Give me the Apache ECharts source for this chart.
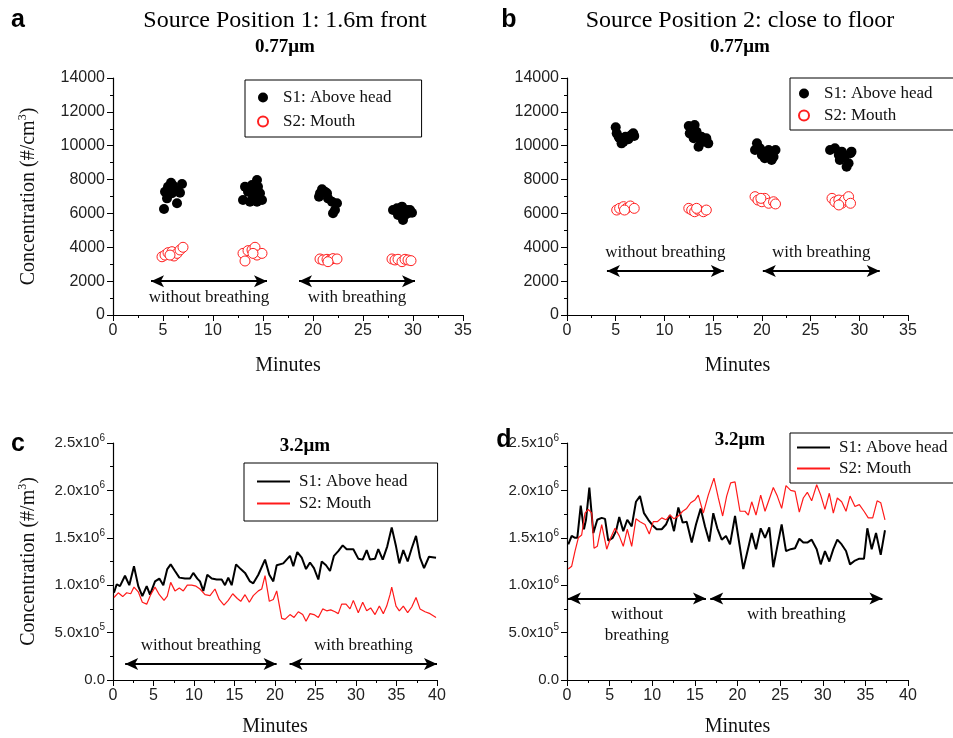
<!DOCTYPE html>
<html>
<head>
<meta charset="utf-8">
<title>Source position concentration</title>
<script src="https://cdn.jsdelivr.net/npm/echarts@6/dist/echarts.min.js"></script>
<style>
html, body { margin: 0; padding: 0; background: #fff; }
#main { width: 953px; height: 738px; }
</style>
</head>
<body>
<div id="main"></div>
<script>
// panel a: 0.77um, source position 1  ([minutes, #/cm3])
var aS1 = [[5.1,6260],[5.2,7280],[5.5,7580],[5.8,7815],[5.4,6890],[5.9,7190],[6.2,7380],[6.4,6600],[6.7,7225],[6.9,7740],[5.7,7500],[6.0,7650],
    [13.2,7580],[13.0,6790],[13.5,7280],[13.9,7680],[14.4,7975],[14.4,6690],[14.7,7190],[14.9,6790],[14.0,6990],[14.2,7380],[13.7,6690],[14.5,7580],
    [20.9,7425],[20.6,6990],[21.2,7280],[21.5,6890],[21.9,6690],[22.4,6600],[22.0,6010],[22.2,6200],[21.4,7190],[20.7,7190],
    [28.0,6200],[28.4,6300],[28.7,6010],[29.0,5610],[29.4,6200],[29.9,6040],[28.9,6400],[29.2,5910],[29.5,6010],[28.5,5910],[29.7,6200]];
var aS2 = [[4.9,3440],[5.2,3540],[5.5,3680],[5.9,3740],[6.1,3485],[6.4,3640],[6.7,3840],[7.0,4000],[5.7,3540],
    [13.0,3640],[13.2,3190],[13.5,3800],[13.9,3840],[14.2,4000],[14.4,3540],[14.9,3640],[14.0,3640],
    [20.7,3310],[21.0,3250],[21.4,3290],[21.7,3250],[22.0,3330],[22.4,3310],[21.5,3150],
    [27.9,3310],[28.2,3250],[28.5,3290],[28.9,3150],[29.2,3290],[29.5,3250],[29.8,3210]];

// panel b: 0.77um, source position 2
var bS1 = [[5.0,11090],[5.1,10730],[5.4,10440],[5.6,10140],[6.0,10530],[6.3,10380],[6.6,10630],[6.9,10570],[6.8,10730],[5.8,10240],[5.3,10530],
    [12.5,11160],[13.1,11220],[12.6,10730],[13.0,10440],[13.3,10830],[13.7,10340],[13.5,9940],[14.0,10240],[14.3,10440],[14.5,10140],[13.8,10530],
    [19.5,10140],[19.3,9750],[19.8,9850],[20.0,9450],[20.3,9260],[20.7,9750],[21.0,9160],[21.4,9750],[21.2,9350],[20.1,9650],[20.8,9450],
    [27.0,9750],[27.5,9850],[27.9,9450],[28.2,9650],[28.5,9350],[28.9,8960],[29.1,9550],[29.2,9650],[28.7,8760],[28.0,9160]];
var bS2 = [[5.1,6200],[5.4,6300],[5.8,6400],[6.1,6300],[6.5,6440],[6.9,6300],[5.9,6200],
    [12.5,6300],[12.8,6200],[13.1,6100],[13.5,6200],[14.0,6100],[14.3,6200],[13.3,6300],
    [19.3,6990],[19.6,6790],[20.0,6690],[20.3,6890],[20.7,6600],[21.2,6690],[21.4,6560],[19.9,6890],
    [27.2,6890],[27.5,6690],[27.9,6790],[28.2,6600],[28.5,6790],[28.9,6990],[29.1,6600],[27.9,6500]];

// panel c: 3.2um, source position 1 (values in 10^6 #/m3)
var cT1 = [0.12,0.46,0.86,1.48,2.01,2.59,3.12,3.62,4.16,4.57,5.19,5.72,6.21,6.70,7.12,7.65,8.19,8.89,9.51,9.91,10.41,10.74,11.15,11.64,12.19,12.80,13.42,13.83,14.23,14.65,15.19,15.77,16.30,16.91,17.32,17.94,18.77,19.30,19.79,20.21,21.02,21.85,22.26,22.75,23.30,23.83,24.32,24.81,25.35,25.77,26.30,26.79,27.28,27.81,28.36,28.85,29.67,30.28,30.83,31.32,31.73,32.35,32.75,33.30,33.86,34.41,34.94,35.35,35.84,36.38,36.88,37.41,37.90,38.40,39.01,39.88];
var cS1 = [0.92,1.01,0.99,1.10,1.00,1.20,0.99,0.885,0.99,0.90,1.04,1.07,1.00,1.17,1.22,1.15,1.08,1.07,1.07,1.13,1.07,1.04,0.94,1.11,1.07,1.06,1.06,1.00,1.08,1.00,1.22,1.17,1.13,1.04,1.02,1.11,1.27,1.11,1.04,1.21,1.23,1.31,1.20,1.35,1.29,1.17,1.24,1.18,1.06,1.25,1.21,1.15,1.31,1.36,1.42,1.38,1.38,1.28,1.27,1.37,1.27,1.28,1.38,1.27,1.41,1.61,1.41,1.23,1.37,1.25,1.39,1.52,1.29,1.18,1.30,1.29];
var cT2 = [0.12,0.65,1.20,1.69,2.19,2.59,3.12,3.62,4.16,4.65,5.19,5.72,6.30,6.70,7.12,7.65,8.19,8.68,9.17,9.72,10.25,10.74,11.36,11.98,12.59,13.12,13.70,14.23,14.78,15.35,15.77,16.30,16.83,17.32,17.94,18.36,18.77,19.30,19.79,20.21,20.83,21.23,21.85,22.35,22.88,23.42,23.83,24.32,24.81,25.35,25.89,26.38,26.88,27.41,27.81,28.23,28.77,29.26,29.67,30.28,30.83,31.32,31.81,32.35,32.88,33.37,33.79,34.20,34.41,34.94,35.35,35.84,36.38,36.88,37.41,37.90,38.52,39.14,39.88];
var cS2 = [0.87,0.92,0.88,0.92,0.91,0.98,0.93,0.82,0.80,0.90,0.98,0.90,0.84,0.885,1.03,0.94,0.97,0.94,1.00,1.00,0.99,0.96,0.90,0.89,0.96,0.85,0.79,0.84,0.91,0.86,0.83,0.90,0.82,0.89,0.94,0.96,1.10,0.83,0.85,0.94,0.65,0.64,0.69,0.66,0.72,0.69,0.62,0.70,0.69,0.66,0.75,0.73,0.74,0.72,0.70,0.80,0.80,0.75,0.84,0.71,0.82,0.73,0.76,0.69,0.78,0.70,0.78,0.90,0.98,0.78,0.73,0.78,0.71,0.77,0.87,0.75,0.72,0.70,0.66];

// panel d: 3.2um, source position 2 (values in 10^6 #/m3)
var dT1 = [0.15,0.55,0.94,1.21,1.61,1.99,2.23,2.62,3.09,3.55,4.07,4.46,4.84,5.36,5.75,6.13,6.60,7.07,7.59,8.09,8.56,9.03,9.54,10.05,10.52,11.11,11.61,12.08,12.55,13.06,13.57,14.04,14.63,15.13,15.68,16.19,16.69,17.16,17.63,18.15,18.65,19.12,19.71,20.68,21.67,22.17,22.72,23.23,23.73,24.20,24.67,25.18,25.69,26.24,26.75,27.25,27.72,28.19,28.70,29.29,29.76,30.26,30.77,31.24,31.71,32.22,32.73,33.20,33.78,34.29,34.84,35.23,35.74,36.25,36.80,37.30];
var dS1 = [1.43,1.52,1.50,1.50,1.84,1.59,1.69,2.03,1.55,1.69,1.71,1.70,1.47,1.50,1.57,1.72,1.57,1.69,1.62,1.88,1.94,1.76,1.69,1.63,1.59,1.59,1.64,1.74,1.57,1.82,1.66,1.67,1.45,1.64,1.81,1.62,1.46,1.76,1.60,1.48,1.52,1.43,1.73,1.17,1.55,1.38,1.60,1.50,1.61,1.19,1.41,1.64,1.36,1.38,1.39,1.49,1.45,1.45,1.48,1.38,1.22,1.36,1.25,1.38,1.48,1.43,1.36,1.22,1.26,1.28,1.28,1.60,1.38,1.55,1.32,1.58];
var dT2 = [0.15,0.55,0.94,1.33,1.72,2.11,2.50,2.90,3.17,3.55,4.07,4.66,5.13,5.63,6.13,6.60,7.07,7.59,8.09,8.56,9.15,9.65,10.12,10.59,11.11,11.61,12.08,12.55,13.06,13.57,14.04,14.51,15.01,15.40,15.99,16.57,17.24,17.75,18.26,18.73,19.20,19.71,20.29,20.88,21.27,21.67,22.17,22.72,23.23,24.20,24.67,25.18,25.69,26.24,26.75,27.25,27.72,28.19,28.70,29.29,29.76,30.26,30.77,31.24,31.71,32.22,32.73,33.20,33.78,34.29,34.84,35.34,35.86,36.38,36.80,37.30];
var dS2 = [1.17,1.20,1.36,1.50,1.53,1.76,1.80,1.76,1.39,1.41,1.64,1.38,1.50,1.60,1.52,1.41,1.59,1.41,1.70,1.67,1.64,1.54,1.67,1.67,1.71,1.69,1.74,1.70,1.73,1.78,1.81,1.87,1.90,1.95,1.76,1.95,2.13,1.92,1.73,1.94,2.08,2.09,1.78,1.78,1.74,1.88,1.74,1.95,1.78,2.03,1.94,1.81,2.05,2.00,1.99,1.77,1.92,1.98,1.89,2.06,1.95,1.80,1.97,1.76,1.92,1.88,1.78,1.94,1.83,1.85,1.78,1.71,1.71,1.89,1.87,1.69];

// breathing arrows: [from, to, level, text]
var aArrows = [[3.8,15.4,2000,'without breathing'],[18.6,30.2,2000,'with breathing']];
var bArrows = [[4.1,16.1,2600,'without breathing'],[20.1,32.1,2600,'with breathing']];
var cArrows = [[1.5,20.2,0.17,'without breathing'],[21.8,40,0.17,'with breathing']];
var dArrows = [[0.1,16.3,0.86,'without\nbreathing'],[16.8,37,0.86,'with breathing']];

var legendNames = {
    aS1: 'S1: Above head', aS2: 'S2: Mouth', bS1: 'S1: Above head', bS2: 'S2: Mouth',
    cS1: 'S1: Above head', cS2: 'S2: Mouth', dS1: 'S1: Above head', dS2: 'S2: Mouth'
};

var SERIF = '"Liberation Serif", "Times New Roman", serif';
var SANS = '"Liberation Sans", Arial, sans-serif';

function zip(t, v){
    var out = [];
    for (var i = 0; i < t.length; i++) out.push([t[i], v[i]]);
    return out;
}

function arrowLines(list, below){
    var lines = [];
    for (var i = 0; i < list.length; i++){
        var a = list[i];
        lines.push([
            {coord: [a[0], a[2]], label: {formatter: a[3]}},
            {coord: [a[1], a[2]]}
        ]);
    }
    return {
        silent: true,
        symbol: ['arrow', 'arrow'],
        symbolSize: [9, 13],
        lineStyle: {color: '#000', width: 2, type: 'solid'},
        label: {
            show: true,
            position: below ? 'insideMiddleBottom' : 'insideMiddleTop',
            distance: below ? 6 : 8,
            color: '#111',
            fontFamily: SERIF,
            fontSize: 17,
            lineHeight: 21
        },
        emphasis: {disabled: true},
        data: lines
    };
}

function xAxis(idx, max, nameGap){
    return {
        gridIndex: idx, type: 'value', min: 0, max: max, interval: 5,
        name: 'Minutes', nameLocation: 'middle', nameGap: nameGap,
        nameTextStyle: {fontFamily: SERIF, fontSize: 20, color: '#111'},
        axisLine: {lineStyle: {color: '#000', width: 1.2}},
        axisTick: {length: 6, lineStyle: {color: '#000'}},
        minorTick: {show: true, splitNumber: 2, length: 3, lineStyle: {color: '#000'}},
        splitLine: {show: false},
        axisLabel: {fontFamily: SANS, fontSize: 16, color: '#222', margin: 8}
    };
}

function sciLabel(v){
    if (v === 0) return '{a|0.0}';
    if (v < 1) return '{a|' + (v * 10).toFixed(1) + 'x10}{s|5}';
    return '{a|' + v.toFixed(1) + 'x10}{s|6}';
}

function yAxis(idx, opt){
    var ax = {
        gridIndex: idx, type: 'value', min: 0,
        axisLine: {show: true, lineStyle: {color: '#000', width: 1.2}},
        axisTick: {show: true, length: 6, lineStyle: {color: '#000'}},
        minorTick: {show: true, splitNumber: 2, length: 3, lineStyle: {color: '#000'}},
        splitLine: {show: false},
        axisLabel: {fontFamily: SANS, fontSize: 16, color: '#222', margin: 8,
            formatter: function(v){ return String(v); }}
    };
    for (var k in opt) ax[k] = opt[k];
    return ax;
}

var yNameStyle = {
    fontFamily: SERIF, fontSize: 20, color: '#111',
    rich: {
        n: {fontFamily: SERIF, fontSize: 20, color: '#111', lineHeight: 24},
        s: {fontFamily: SERIF, fontSize: 12, color: '#111', verticalAlign: 'top', lineHeight: 24}
    }
};

var sciAxisLabel = {
    fontFamily: SANS, fontSize: 15, color: '#222', margin: 8,
    formatter: sciLabel,
    rich: {
        a: {fontFamily: SANS, fontSize: 15, color: '#222', lineHeight: 20},
        s: {fontFamily: SANS, fontSize: 10, color: '#222', verticalAlign: 'top', lineHeight: 20}
    }
};

function legend(left, top, names, iconW, iconH, pad, gap, icon){
    var lg = {
        orient: 'vertical', left: left, top: top,
        data: names,
        formatter: function(name){ return legendNames[name]; },
        borderColor: '#000', borderWidth: 1, padding: pad,
        itemWidth: iconW, itemHeight: iconH, itemGap: gap,
        selectedMode: false,
        textStyle: {fontFamily: SERIF, fontSize: 17, color: '#111', padding: [0, 0, 0, 4]}
    };
    if (icon) lg.icon = icon;
    return lg;
}

function txt(x, y, s, size, family, weight){
    return {
        type: 'text', x: x, y: y, silent: true,
        style: {
            text: s, fill: '#000', fontSize: size, fontFamily: family, fontWeight: weight || 'normal',
            textAlign: 'center', textVerticalAlign: 'middle', align: 'center', verticalAlign: 'middle'
        }
    };
}

var myChart = echarts.init(document.getElementById('main'));
var option = {
    animation: false,
    backgroundColor: '#fff',
    graphic: [
        txt(18, 20, 'a', 25, SANS, 'bold'),
        txt(285, 21, 'Source Position 1: 1.6m front', 24, SERIF),
        txt(285, 47, '0.77\u03bcm', 19, SERIF, 'bold'),
        txt(509, 20, 'b', 25, SANS, 'bold'),
        txt(740, 21, 'Source Position 2: close to floor', 24, SERIF),
        txt(740, 47, '0.77\u03bcm', 19, SERIF, 'bold'),
        txt(18, 444, 'c', 25, SANS, 'bold'),
        txt(305, 446, '3.2\u03bcm', 19, SERIF, 'bold'),
        txt(504, 440, 'd', 25, SANS, 'bold'),
        txt(740, 440, '3.2\u03bcm', 19, SERIF, 'bold')
    ],
    legend: [
        legend(245, 80, ['aS1', 'aS2'], 22, 10, [9, 30, 7, 12], 7),
        legend(790, 78, ['bS1', 'bS2'], 22, 10, [7, 30, 6, 8], 5),
        legend(244, 463, ['cS1', 'cS2'], 33, 2, [10, 30, 9, 13], 5, 'rect'),
        legend(790, 433, ['dS1', 'dS2'], 33, 2, [6, 30, 6, 7], 4, 'rect')
    ],
    grid: [
        {left: 113, top: 78, width: 350, height: 237},
        {left: 567, top: 78, width: 341, height: 237},
        {left: 113, top: 443, width: 324, height: 238},
        {left: 567, top: 443, width: 341, height: 238}
    ],
    xAxis: [xAxis(0, 35, 41), xAxis(1, 35, 41), xAxis(2, 40, 37), xAxis(3, 40, 37)],
    yAxis: [
        yAxis(0, {max: 14000, interval: 2000, name: '{n|Concentration (#/cm}{s|3}{n|)}',
            nameLocation: 'middle', nameGap: 72, nameTextStyle: yNameStyle}),
        yAxis(1, {max: 14000, interval: 2000}),
        yAxis(2, {max: 2.5, interval: 0.5, axisLabel: sciAxisLabel, name: '{n|Concentration (#/m}{s|3}{n|)}',
            nameLocation: 'middle', nameGap: 72, nameTextStyle: yNameStyle}),
        yAxis(3, {max: 2.5, interval: 0.5, axisLabel: sciAxisLabel})
    ],
    series: [
        {name: 'aS1', type: 'scatter', xAxisIndex: 0, yAxisIndex: 0, data: aS1, symbolSize: 10,
            itemStyle: {color: '#000', opacity: 1}, markLine: arrowLines(aArrows, true)},
        {name: 'aS2', type: 'scatter', xAxisIndex: 0, yAxisIndex: 0, data: aS2, symbolSize: 10,
            itemStyle: {color: '#fff', borderColor: '#ff2020', borderWidth: 1, opacity: 1}},
        {name: 'bS1', type: 'scatter', xAxisIndex: 1, yAxisIndex: 1, data: bS1, symbolSize: 10,
            itemStyle: {color: '#000', opacity: 1}, markLine: arrowLines(bArrows, false)},
        {name: 'bS2', type: 'scatter', xAxisIndex: 1, yAxisIndex: 1, data: bS2, symbolSize: 10,
            itemStyle: {color: '#fff', borderColor: '#ff2020', borderWidth: 1, opacity: 1}},
        {name: 'cS1', type: 'line', xAxisIndex: 2, yAxisIndex: 2, data: zip(cT1, cS1), symbol: 'none',
            lineStyle: {color: '#000', width: 2}, itemStyle: {color: '#000'}, markLine: arrowLines(cArrows, false)},
        {name: 'cS2', type: 'line', xAxisIndex: 2, yAxisIndex: 2, data: zip(cT2, cS2), symbol: 'none',
            lineStyle: {color: '#ff1a1a', width: 1.2}, itemStyle: {color: '#ff1a1a'}},
        {name: 'dS1', type: 'line', xAxisIndex: 3, yAxisIndex: 3, data: zip(dT1, dS1), symbol: 'none',
            lineStyle: {color: '#000', width: 2}, itemStyle: {color: '#000'}, markLine: arrowLines(dArrows, true)},
        {name: 'dS2', type: 'line', xAxisIndex: 3, yAxisIndex: 3, data: zip(dT2, dS2), symbol: 'none',
            lineStyle: {color: '#ff1a1a', width: 1.2}, itemStyle: {color: '#ff1a1a'}}
    ]
};
myChart.setOption(option);
</script>
</body>
</html>
